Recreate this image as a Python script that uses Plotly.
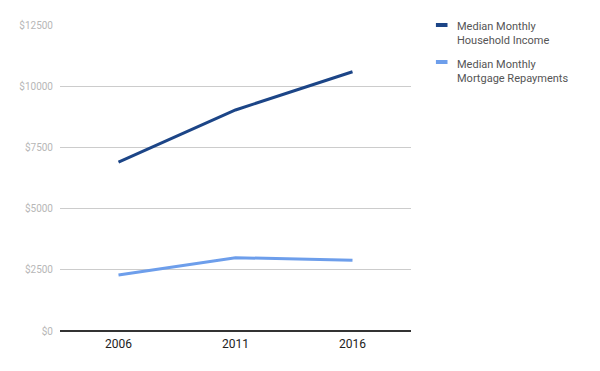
import plotly.graph_objects as go

years = ["2006", "2011", "2016"]
income = [6900, 9030, 10590]
mortgage = [2290, 2995, 2890]
series_names = ["Median Monthly<br>Household Income", "Median Monthly<br>Mortgage Repayments"]
colors = ["#1c4587", "#6d9eeb"]
y_ticks = [0, 2500, 5000, 7500, 10000, 12500]
y_tick_labels = ["$0", "$2500", "$5000", "$7500", "$10000", "$12500"]

fig = go.Figure()
for name, vals, col in zip(series_names, [income, mortgage], colors):
    fig.add_trace(go.Scatter(x=years, y=vals, mode="lines", name=name,
                             line=dict(color=col, width=3), showlegend=False))

# custom legend (paper coordinates)
swatch_y = [1.0, 0.879]
text_y = [1.023, 0.899]
for name, col, sy, ty in zip(series_names, colors, swatch_y, text_y):
    fig.add_shape(type="line", xref="paper", yref="paper",
                  x0=1.071, x1=1.104, y0=sy, y1=sy,
                  line=dict(color=col, width=4))
    fig.add_annotation(xref="paper", yref="paper", x=1.125, y=ty,
                       text=name, showarrow=False, xanchor="left", yanchor="top",
                       align="left", font=dict(family="Roboto", size=11, color="#555555"))

fig.update_layout(
    width=600, height=371,
    margin=dict(l=60, r=189, t=25, b=40, autoexpand=False),
    paper_bgcolor="white", plot_bgcolor="white",
    font=dict(family="Roboto"),
    showlegend=False,
)
fig.update_xaxes(type="category", range=[-0.5, 2.5], showgrid=False, showline=False,
                 tickfont=dict(size=12, color="#222222"), ticks="", ticklabelstandoff=4)
fig.update_yaxes(range=[0, 12500], tickvals=y_ticks, ticktext=y_tick_labels,
                 showgrid=True, gridcolor="#cccccc", gridwidth=1,
                 zeroline=True, zerolinecolor="#333333", zerolinewidth=1.5,
                 showline=False, ticks="", tickfont=dict(size=10, color="#b7b7b7"),
                 ticklabelstandoff=6)

fig.write_html("out.html", config={"displayModeBar": False})

# remove default body margin so the figure sits at the page origin
with open("out.html", "r", encoding="utf-8") as f:
    html = f.read()
html = html.replace("<body>", '<body style="margin:0;padding:0;">', 1)
with open("out.html", "w", encoding="utf-8") as f:
    f.write(html)
